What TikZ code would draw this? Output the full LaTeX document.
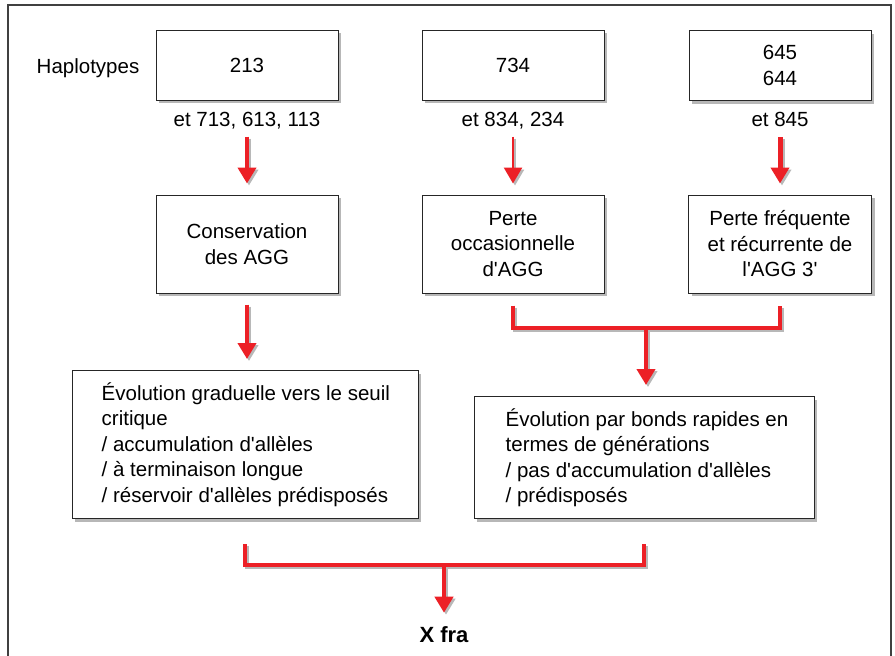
\documentclass[tikz,border=0pt]{standalone}
\usepackage{fontspec}
\setmainfont{Liberation Sans}
\usetikzlibrary{arrows.meta,shadows,calc}
\definecolor{ared}{RGB}{236,32,38}
\newcommand\aq{\textquotesingle}
\newcommand\shdraw[2]{%
  \draw[#1, draw=black!28, transform canvas={shift={(2pt,-2pt)}}] #2;
  \draw[#1] #2;}
\begin{document}
\begin{tikzpicture}[x=1pt,y=-1pt,
  txt/.style={font=\fontsize{20.5}{25.5}\selectfont, inner sep=0pt},
  box/.style={txt, draw=black!85, line width=1pt, fill=white, align=center,
    drop shadow={shadow xshift=3pt, shadow yshift=-3pt, fill=black!35, opacity=0.8}},
  arr/.style={draw=ared, line width=#1, -{Triangle[width=18pt,length=16pt]}},
  arr/.default=4pt,
  brk/.style={draw=ared, line width=4pt, line cap=butt, line join=miter}]
\useasboundingbox (0,0) rectangle (895,656);
\fill[white] (0,0) rectangle (895,656);
\draw[line width=1.3pt, black!75] (8,664) -- (8,5) -- (891,5) -- (891,664);

% top row
\node[txt, anchor=base] (hap) at (88,73) {Haplotypes};
\node[box, minimum width=182pt, minimum height=70pt] (h1) at (247,65) {213};
\node[box, minimum width=182pt, minimum height=70pt] (h2) at (513,65) {734};
\node[box, minimum width=182pt, minimum height=70pt] (h3) at (780,65.5) {645\\644};
\node[txt, anchor=base] (e1) at (247,126) {et 713, 613, 113};
\node[txt, anchor=base] (e2) at (513,126) {et 834, 234};
\node[txt, anchor=base] (e3) at (780,126) {et 845};

% second row
\node[box, minimum width=182pt, minimum height=98pt] (b4) at (247,244) {Conservation\\des AGG};
\node[box, minimum width=182pt, minimum height=98pt] (b5) at (513,244) {Perte\\occasionnelle\\d\aq AGG};
\node[box, minimum width=183pt, minimum height=98pt] (b6) at (780,244) {Perte fréquente\\et récurrente de\\l\aq AGG 3\aq};

% third row
\node[box, minimum width=346pt, minimum height=148pt] (b7) at (245,444.5) {};
\node[txt, anchor=west, align=left] (t7) at ($(b7.west)+(30pt,0)$)
  {Évolution graduelle vers le seuil\\critique\\/ accumulation d\aq allèles\\/ à terminaison longue\\/ réservoir d\aq allèles prédisposés};
\node[box, minimum width=340pt, minimum height=122pt] (b8) at (644,457.5) {};
\node[txt, anchor=west, align=left] (t8) at ($(b8.west)+(32pt,0)$)
  {Évolution par bonds rapides en\\termes de générations\\/ pas d\aq accumulation d\aq allèles\\/ prédisposés};

\node[txt, font=\fontsize{22}{26}\selectfont\bfseries] (xf) at (444,635) {X fra};

\coordinate (j1) at (646,328);
\coordinate (j2) at (444,565);

% arrows
\shdraw{arr=4pt}{([yshift=-36pt]h1.south) -- ([yshift=11pt]b4.north)}
\shdraw{arr=2.5pt}{([yshift=-36pt]h2.south) -- ([yshift=11pt]b5.north)}
\shdraw{arr=5pt}{([yshift=-36pt]h3.south) -- ([yshift=11pt]b6.north)}
\shdraw{arr=4pt}{([yshift=-11pt]b4.south) -- ([yshift=11pt]b4.south |- b7.north)}

\shdraw{brk}{([yshift=-12pt]b5.south) -- (b5.south |- j1) -- (b6.south |- j1) -- ([yshift=-12pt]b6.south)}
\shdraw{arr=4pt}{(j1) -- ([yshift=11pt]j1 |- b8.north)}

\shdraw{brk}{([yshift=-25pt]b7.south) -- (b7.south |- j2) -- (b8.south |- j2) -- ([yshift=-25pt]b8.south)}
\shdraw{arr=4pt}{(j2) -- ([yshift=14pt]xf.north)}
\end{tikzpicture}
\end{document}
